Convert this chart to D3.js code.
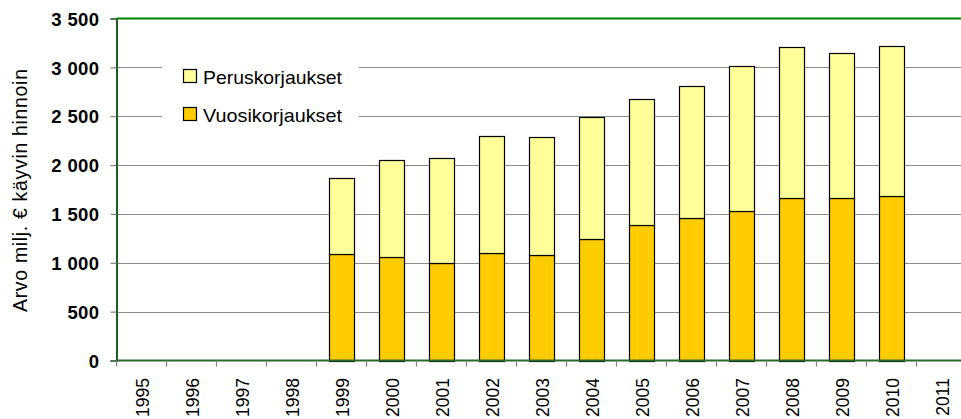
<!DOCTYPE html>
<html>
<head>
<meta charset="utf-8">
<script src="https://cdn.jsdelivr.net/npm/d3@7"></script>
<style>
  html, body { margin: 0; padding: 0; background: #fff; overflow: hidden; }
  svg { display: block; font-family: "Liberation Sans", Arial, sans-serif; }
</style>
</head>
<body>
<svg id="chart" width="961" height="419"></svg>
<script>
// Annual repair volumes (million €, current prices)
const years = ["1995","1996","1997","1998","1999","2000","2001","2002","2003","2004","2005","2006","2007","2008","2009","2010","2011"];
const vuosikorjaukset = [null,null,null,null,1085,1057,996,1105,1075,1245,1382,1456,1532,1665,1665,1686,null];
const peruskorjaukset = [null,null,null,null,785,990,1075,1195,1214,1252,1296,1355,1487,1542,1484,1531,null];
const yTicks = [0,500,1000,1500,2000,2500,3000,3500];
const seriesNames = ["Peruskorjaukset","Vuosikorjaukset"];
const seriesColors = {"Vuosikorjaukset":"#FFCC00","Peruskorjaukset":"#FFFF99"};

const svg = d3.select("#chart");
const plotLeft = 116.5, plotTop = 18.5, plotBottom = 360.5;
const step = 50;
const plotRight = plotLeft + step * years.length;

const x = d3.scaleBand().domain(years).range([plotLeft, plotRight]).paddingInner(0.5).paddingOuter(0.25);
const y = d3.scaleLinear().domain([0, 3500]).range([plotBottom, plotTop]);

const fmt = v => d3.format(",")(v).replace(/,/g, " ");

// Horizontal gridlines
svg.append("g").selectAll("line").data(yTicks.filter(t => t > 0 && t < 3500)).join("line")
  .attr("x1", plotLeft).attr("x2", 961)
  .attr("y1", d => Math.round(y(d)) + 0.5).attr("y2", d => Math.round(y(d)) + 0.5)
  .attr("stroke", "#8c8c8c").attr("stroke-width", 1.2);

// Stacked bars
const rows = years.map((yr, i) => ({year: yr, Vuosikorjaukset: vuosikorjaukset[i] || 0, Peruskorjaukset: peruskorjaukset[i] || 0, has: vuosikorjaukset[i] != null}));
const stack = d3.stack().keys(["Vuosikorjaukset","Peruskorjaukset"]);
const layers = stack(rows);
svg.append("g").selectAll("g").data(layers).join("g")
  .attr("fill", d => seriesColors[d.key])
  .selectAll("rect").data(d => d.filter(p => p.data.has)).join("rect")
  .attr("x", d => x(d.data.year) + 0.5)
  .attr("width", x.bandwidth())
  .attr("y", d => Math.round(y(d[1])) + 0.5)
  .attr("height", d => Math.round(y(d[0])) - Math.round(y(d[1])))
  .attr("stroke", "#000").attr("stroke-width", 1.2);

// Y axis
const yAxis = svg.append("g").attr("transform", `translate(${plotLeft},0)`)
  .call(d3.axisLeft(y).tickValues(yTicks).tickSize(6).tickPadding(11).tickFormat(fmt));
yAxis.select(".domain").attr("stroke", "#1e5a1e").attr("stroke-width", 2);
yAxis.selectAll(".tick line").attr("stroke", "#808080").attr("stroke-width", 1.2);
yAxis.selectAll(".tick text")
  .attr("font-size", 18.5).attr("font-weight", "bold").attr("fill", "#000")
  .attr("font-family", "'Liberation Sans', Arial, sans-serif")
  .attr("dy", "0.36em").attr("letter-spacing", 0.4);

// Top frame line
svg.append("line").attr("x1", plotLeft).attr("x2", 961).attr("y1", plotTop).attr("y2", plotTop)
  .attr("stroke", "#008000").attr("stroke-width", 2);

// X axis baseline and ticks between categories
svg.append("line").attr("x1", plotLeft).attr("x2", 961).attr("y1", plotBottom).attr("y2", plotBottom)
  .attr("stroke", "#2a6a2a").attr("stroke-width", 2);
svg.append("g").selectAll("line").data(d3.range(years.length + 1)).join("line")
  .attr("x1", i => plotLeft + i * step).attr("x2", i => plotLeft + i * step)
  .attr("y1", plotBottom).attr("y2", plotBottom + 6)
  .attr("stroke", "#808080").attr("stroke-width", 1.2);

// Year labels
svg.append("g").selectAll("text").data(years).join("text")
  .attr("transform", d => `translate(${x(d) + x.bandwidth() / 2 + 7},378) rotate(-90)`)
  .attr("text-anchor", "end")
  .attr("font-size", 17.5).attr("fill", "#000")
  .text(d => d);

// Y axis title
svg.append("text")
  .attr("transform", "translate(26.5,190.5) rotate(-90)")
  .attr("text-anchor", "middle")
  .attr("font-size", 19.5).attr("fill", "#000")
  .attr("textLength", 243).attr("lengthAdjust", "spacing")
  .text("Arvo milj. € käyvin hinnoin");

// Legend
const legend = svg.append("g");
legend.append("rect").attr("x", 162).attr("y", 48).attr("width", 197).attr("height", 88).attr("fill", "#fff");
const entries = legend.selectAll("g").data(seriesNames).join("g")
  .attr("transform", (d, i) => `translate(183.5,${69.5 + i * 38})`);
entries.append("rect").attr("width", 13).attr("height", 13)
  .attr("fill", d => seriesColors[d]).attr("stroke", "#000").attr("stroke-width", 1.2);
entries.append("text").attr("x", 19.5).attr("y", 14)
  .attr("font-size", 19).attr("fill", "#000")
  .attr("textLength", 139).attr("lengthAdjust", "spacingAndGlyphs")
  .text(d => d);
</script>
</body>
</html>
